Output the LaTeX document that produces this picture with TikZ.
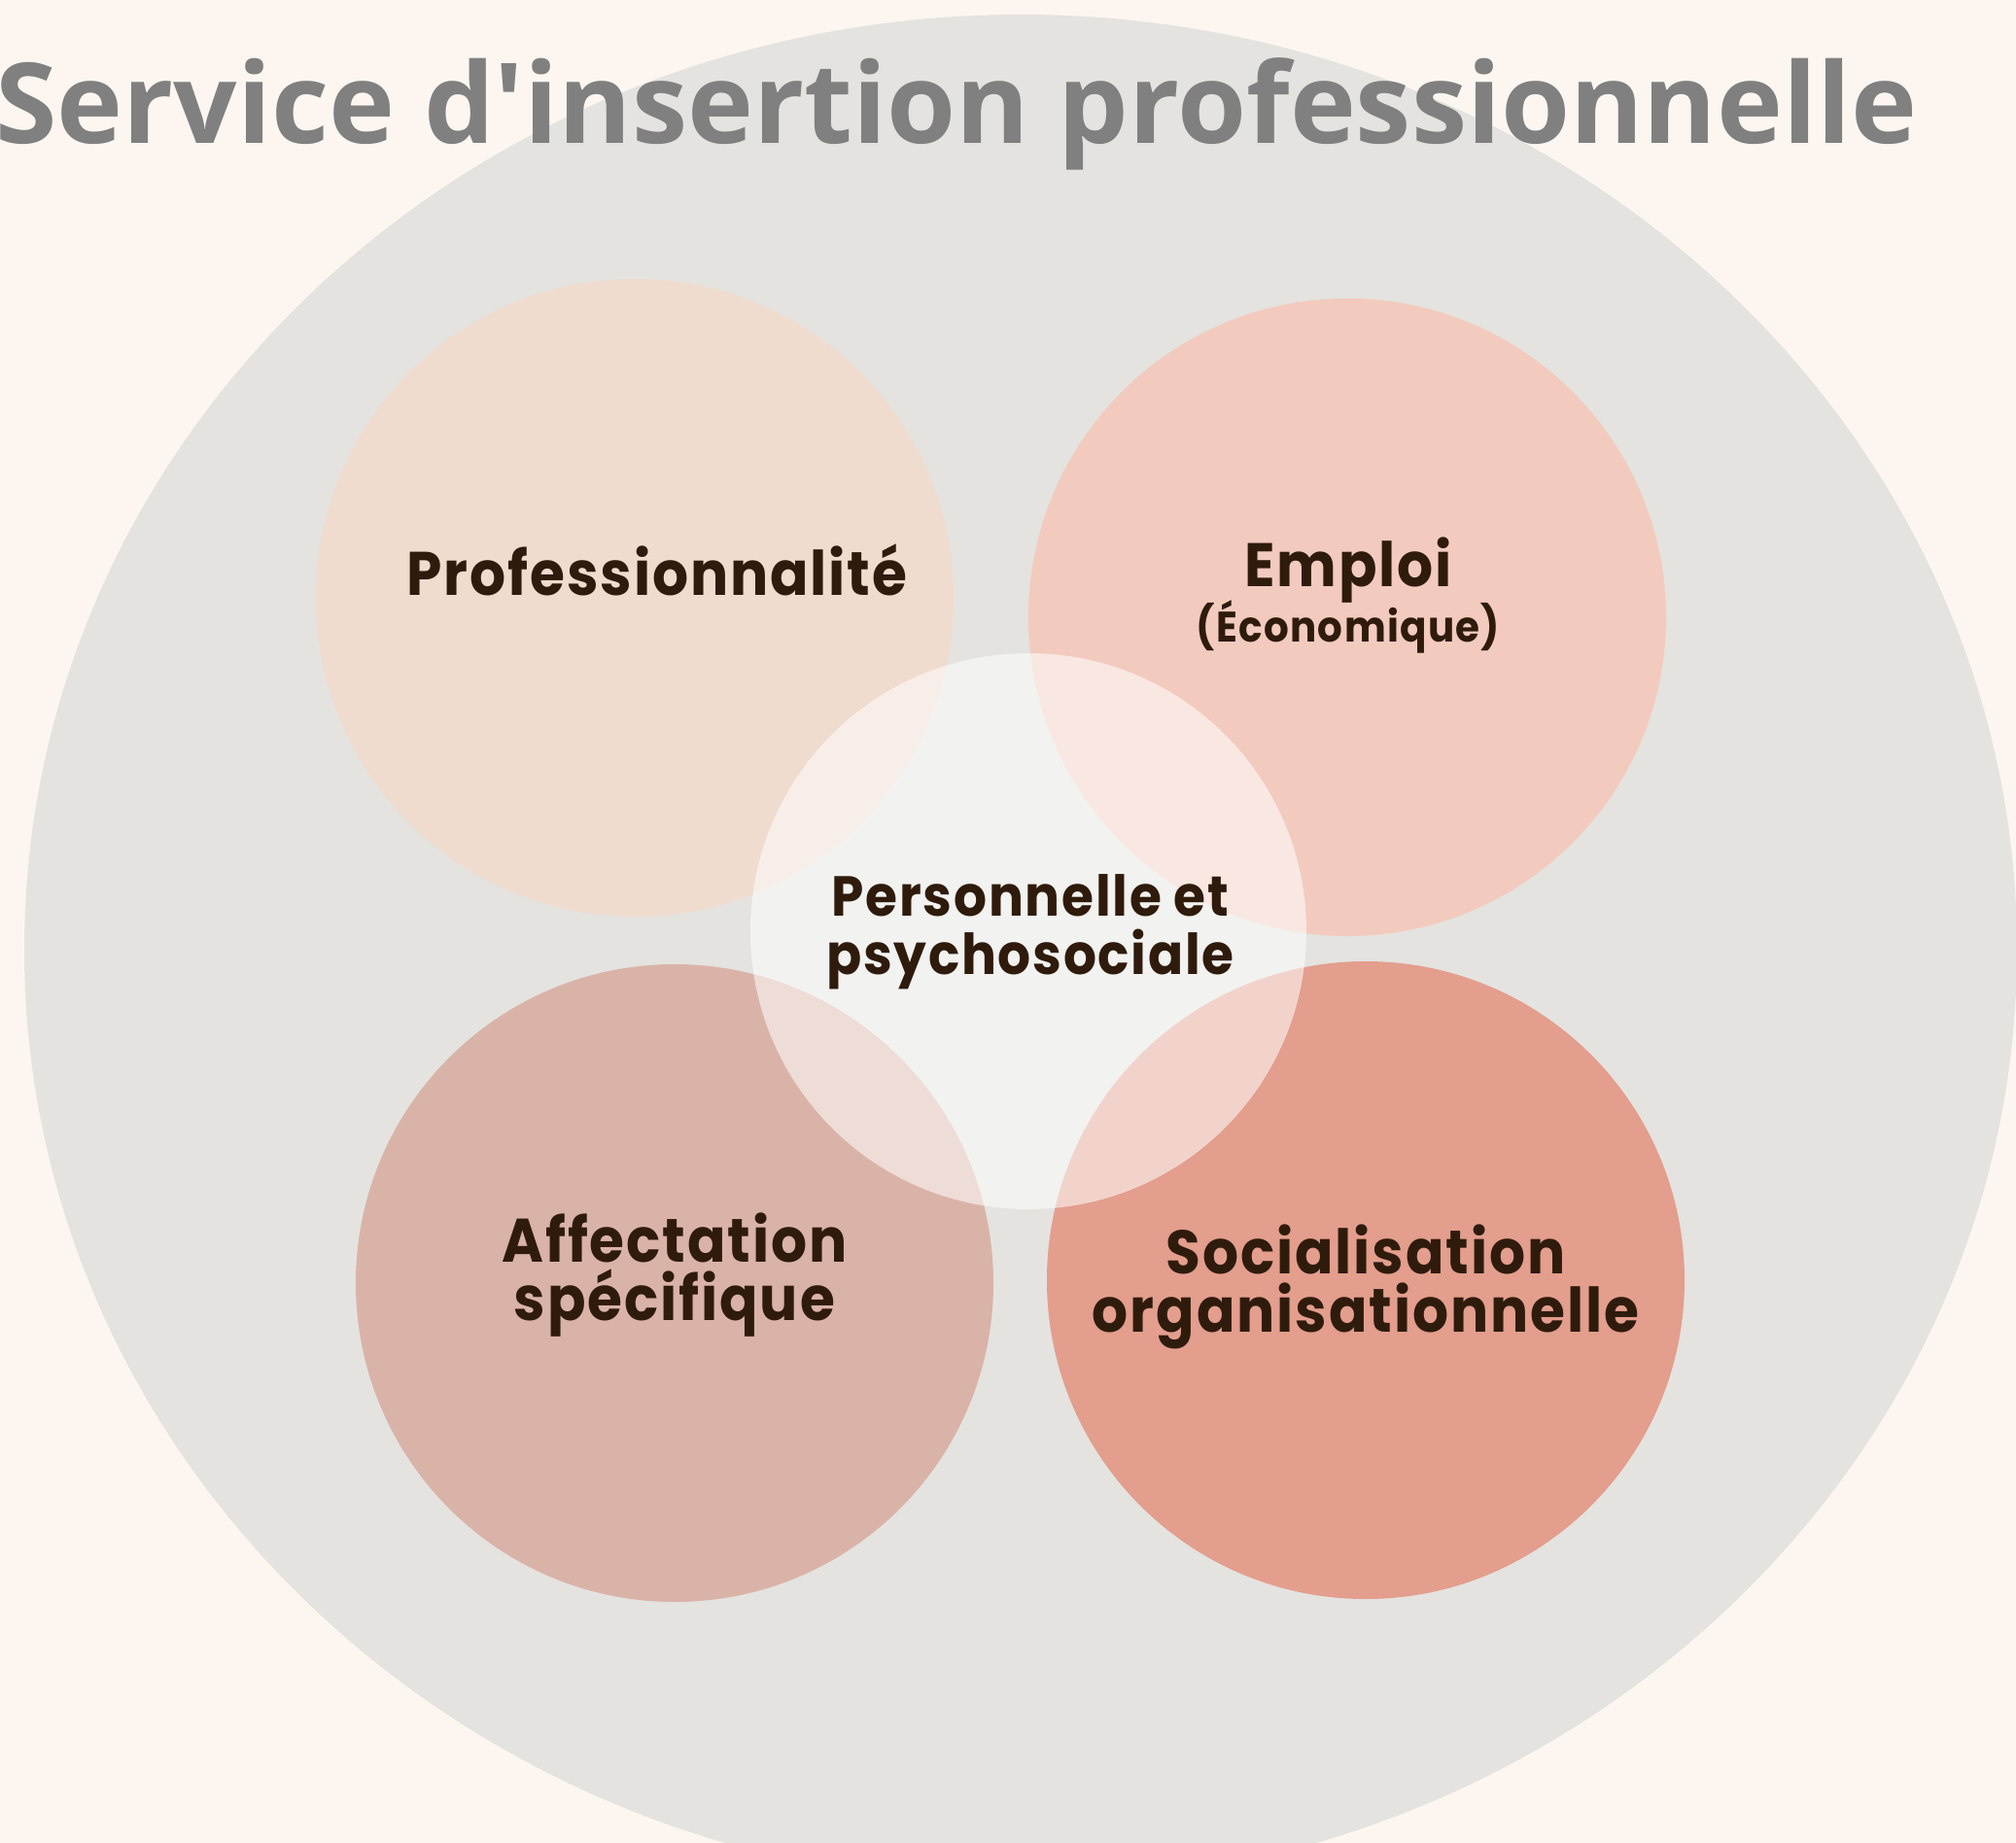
\documentclass[tikz,border=0pt]{standalone}
\usepackage{fontspec}
\newfontfamily\titrefont{Open Sans}
\newfontfamily\bullefont{Poppins}[LetterSpace=3,FakeStretch=0.92]
\definecolor{fond}{HTML}{FDF6F0}
\definecolor{ensemble}{HTML}{E4E3DF}
\definecolor{prof}{HTML}{F0DBCF}
\definecolor{emploi}{HTML}{F2CBBE}
\definecolor{affect}{HTML}{DAB3A8}
\definecolor{social}{HTML}{E39E8D}
\definecolor{texte}{HTML}{2F1B0C}
\definecolor{titre}{HTML}{808080}
\begin{document}
\begin{tikzpicture}

\tikzset{bulle/.style={circle,draw=none,minimum size=6.56cm,inner sep=0pt}}

\clip (0,0) rectangle (20.74,-18.96);
\fill[fond] (0,0) rectangle (20.74,-18.96);
\fill[ensemble] (10.50,-9.77) ellipse (10.25cm and 9.62cm);

\node[bulle,fill=prof] (prof) at (6.53,-6.15) {};
\node[bulle,fill=emploi] (emploi) at (13.86,-6.35) {};
\node[bulle,fill=affect] (affect) at (6.94,-13.20) {};
\node[bulle,fill=social] (social) at (14.05,-13.17) {};
\node[bulle,fill=white,fill opacity=0.55,minimum size=5.72cm] (perso) at (10.58,-9.58) {};

\tikzset{etiquette/.style={text=texte,align=center,anchor=base,
  font={\bullefont\bfseries\fontsize{18}{17}\selectfont}}}

\node[etiquette] (tprof) at (6.76,-6.12) {Professionnalité};
\node[etiquette] (temploi) at (13.87,-6.60) {Emploi\\[-1pt]{\fontsize{12.5}{14}\selectfont(Économique)}};
\node[etiquette,font={\bullefont\bfseries\fontsize{16.5}{16.8}\selectfont}] (tperso) at (10.60,-10.02) {Personnelle et\\psychosociale};
\node[etiquette] (taffect) at (6.94,-13.58) {Affectation\\spécifique};
\node[etiquette] (tsocial) at (14.05,-13.70) {Socialisation\\organisationnelle};

\node[anchor=base,text=titre,font={\titrefont\bfseries\fontsize{32.7}{40}\selectfont}] (titre) at (9.84,-1.47) {Service d'insertion professionnelle};

\end{tikzpicture}
\end{document}
